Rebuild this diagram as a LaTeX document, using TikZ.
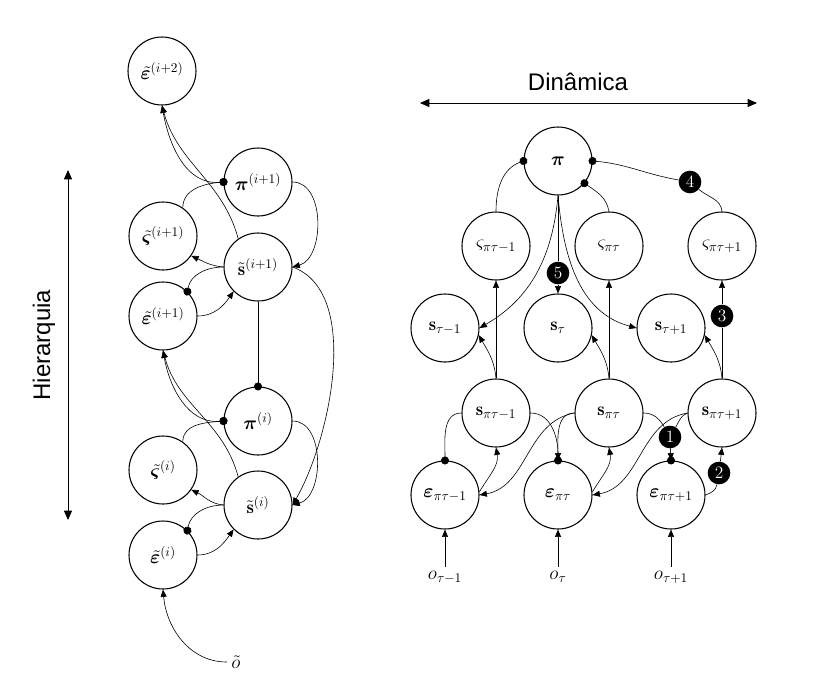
\documentclass[tikz,border=0pt]{standalone}
\usepackage{amsmath,bm}
\usepackage{fontspec}
\setsansfont{Liberation Sans}
\usetikzlibrary{arrows.meta,positioning}

\begin{document}
\begin{tikzpicture}[x=0.75pt, y=-0.75pt, font=\fontsize{14}{16}\selectfont,
  unit/.style={circle, draw, line width=0.8pt, minimum size=51pt, inner sep=0pt},
  badge/.style={circle, fill=black, text=white, minimum size=17pt, inner sep=0pt, font=\fontsize{13}{15}\selectfont},
  wire/.style={line width=0.45pt},
  arr/.style={wire, -{Triangle[length=5.5pt,width=4.5pt]}},
  todot/.style={wire, -{Circle[length=6pt]}, shorten >=-3pt},
  fromdot/.style={wire, {Circle[length=6pt]}-{Triangle[length=5.5pt,width=4.5pt]}, shorten <=-3pt},
  axis/.style={line width=0.7pt, {Triangle[length=7pt,width=6pt]}-{Triangle[length=7pt,width=6pt]}}]
  \useasboundingbox (0,0) rectangle (828,686);

  % hierarquia
  \node[unit] (e2) at (162,71) {$\tilde{\bm\varepsilon}^{(i+2)}$};
  \node[unit] (pi1) at (258,182) {$\bm\pi^{(i+1)}$};
  \node[unit] (z1) at (163,236) {$\tilde{\bm\varsigma}^{(i+1)}$};
  \node[unit] (s1) at (258,267) {$\tilde{\mathbf s}^{(i+1)}$};
  \node[unit] (e1) at (163,316) {$\tilde{\bm\varepsilon}^{(i+1)}$};
  \node[unit] (pi0) at (258,421) {$\bm\pi^{(i)}$};
  \node[unit] (z0) at (163,470) {$\tilde{\bm\varsigma}^{(i)}$};
  \node[unit] (s0) at (258,505) {$\tilde{\mathbf s}^{(i)}$};
  \node[unit] (e0) at (163,555) {$\tilde{\bm\varepsilon}^{(i)}$};
  \node (ot) at (236,662) {$\tilde o$};

  \draw[fromdot] (pi1.west) to[out=185,in=-80] (e2.south);
  \draw[arr] (s1.125) to[out=105,in=-75] (e2.south);
  \draw[todot] (z1.55) to[out=90,in=185] (pi1.west);
  \draw[arr] (s1.west) to[out=175,in=-25] (z1.-35);
  \draw[todot] (s1.west) to[out=180,in=80] (e1.45);
  \draw[arr] (e1.east) to[out=0,in=-125] (s1.-135);
  \draw[arr] (pi1.east) to[out=0,in=15] (s1.east);
  \draw[arr] (s1.east) to[out=-20,in=60,looseness=0.8] (s0.east);
  \draw[todot] (s1.south) -- (pi0.north);

  \draw[fromdot] (pi0.west) to[out=185,in=-80] (e1.south);
  \draw[arr] (s0.125) to[out=105,in=-75] (e1.south);
  \draw[todot] (z0.55) to[out=90,in=185] (pi0.west);
  \draw[arr] (s0.west) to[out=175,in=-25] (z0.-35);
  \draw[todot] (s0.west) to[out=180,in=80] (e0.45);
  \draw[arr] (e0.east) to[out=0,in=-125] (s0.-135);
  \draw[arr] (pi0.east) to[out=0,in=15] (s0.east);
  \draw[arr] (ot.west) to[out=180,in=-85] (e0.south);

  \coordinate (htop) at (68,170);
  \coordinate (hbot) at (68,520);
  \draw[axis] (htop) -- (hbot);
  \node[rotate=90, font=\sffamily\fontsize{18}{20}\selectfont] (hier) at (44,345) {Hierarquia};

  % dinamica
  \coordinate (dleft) at (420,103);
  \coordinate (dright) at (757,103);
  \draw[axis] (dleft) -- (dright);
  \node[font=\sffamily\fontsize{18}{20}\selectfont] (din) at (578,82) {Dinâmica};

  \node[unit] (pi) at (558,161) {$\bm\pi$};
  \node[unit] (za) at (496,246) {$\varsigma_{\pi\tau-1}$};
  \node[unit] (zb) at (609,246) {$\varsigma_{\pi\tau}$};
  \node[unit] (zc) at (722,246) {$\varsigma_{\pi\tau+1}$};
  \node[unit] (sa) at (445,328) {$\mathbf s_{\tau-1}$};
  \node[unit] (sb) at (558,328) {$\mathbf s_{\tau}$};
  \node[unit] (sc) at (671,328) {$\mathbf s_{\tau+1}$};
  \node[unit] (xa) at (496,413) {$\mathbf s_{\pi\tau-1}$};
  \node[unit] (xb) at (609,413) {$\mathbf s_{\pi\tau}$};
  \node[unit] (xc) at (722,413) {$\mathbf s_{\pi\tau+1}$};
  \node[unit] (ea) at (445,495) {$\bm\varepsilon_{\pi\tau-1}$};
  \node[unit] (eb) at (558,495) {$\bm\varepsilon_{\pi\tau}$};
  \node[unit] (ec) at (671,495) {$\bm\varepsilon_{\pi\tau+1}$};
  \node[below=28pt of ea] (oa) {$o_{\tau-1}$};
  \node[below=28pt of eb] (ob) {$o_{\tau}$};
  \node[below=28pt of ec] (oc) {$o_{\tau+1}$};

  \node[badge] (b1) at (670,437) {1};
  \node[badge] (b2) at (719,473) {2};
  \node[badge] (b3) at (722,316) {3};
  \node[badge] (b4) at (690,182) {4};
  \node[badge] (b5) at (558,273) {5};

  \draw[todot] (za.north) to[out=90,in=200] (pi.west);
  \draw[todot] (zb.north) to[out=100,in=-35] (pi.-40);
  \draw[todot] (b4) to[out=170,in=-5] (pi.east);
  \draw[wire] (zc.north) to[out=95,in=-40] (b4);
  \draw[wire] (pi.south) -- (b5);
  \draw[arr] (b5) -- (sb.north);
  \draw[arr] (pi.south) to[out=-95,in=30] (sa.east);
  \draw[arr] (pi.south) to[out=-85,in=165] (sc.west);

  \draw[arr] (xa.north) -- (za.south);
  \draw[arr] (xa.north) to[out=95,in=-60] (sa.-12);
  \draw[arr] (xb.north) -- (zb.south);
  \draw[arr] (xb.north) to[out=95,in=-60] (sb.-12);
  \draw[wire] (xc.north) -- (b3);
  \draw[arr] (b3) -- (zc.south);
  \draw[arr] (xc.north) to[out=95,in=-60] (sc.-12);

  \draw[todot] (xa.west) to[out=180,in=90] (ea.north);
  \draw[arr] (xa.east) to[out=0,in=90] (eb.north);
  \draw[todot] (xb.west) to[out=180,in=90] (eb.north);
  \draw[arr] (xb.west) to[out=190,in=10] (ea.east);
  \draw[arr] (ea.5) to[out=60,in=-80] (xa.south);
  \draw[arr] (eb.5) to[out=60,in=-80] (xb.south);
  \draw[arr] (xc.west) to[out=190,in=10] (eb.east);
  \draw[wire] (xb.east) to[out=0,in=120] (b1);
  \draw[wire] (xc.west) to[out=200,in=60] (b1);
  \draw[arr] (b1) -- (ec.north);
  \draw[todot] (b1) -- (ec.north);
  \draw[wire] (ec.east) to[out=20,in=-100] (b2);
  \draw[arr] (b2) -- (xc.south);

  \draw[arr] (oa) -- (ea.south);
  \draw[arr] (ob) -- (eb.south);
  \draw[arr] (oc) -- (ec.south);
\end{tikzpicture}
\end{document}
